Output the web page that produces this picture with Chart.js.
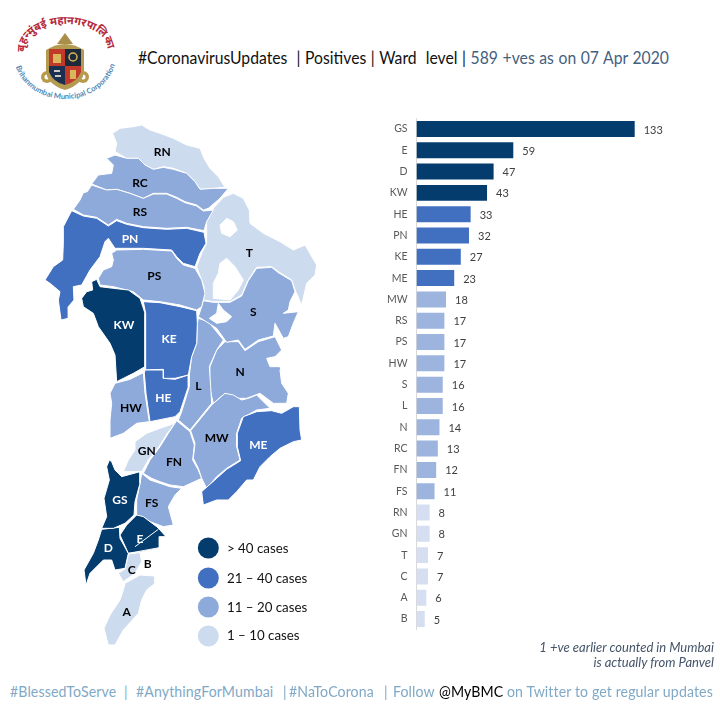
<!DOCTYPE html>
<html><head><meta charset="utf-8">
<script src="https://cdn.jsdelivr.net/npm/chart.js@4/dist/chart.umd.js"></script>
<style>
html,body{margin:0;padding:0;background:#fff;width:720px;height:720px;overflow:hidden;font-family:Lato,"Open Sans",sans-serif}
canvas,svg,.t{position:absolute}
.t{white-space:pre}
#title{left:138px;top:47px;font-size:17px;line-height:22px;color:#111;word-spacing:.6px;transform:scaleX(.925);transform-origin:0 50%}
#title .s{color:#44607f}
#note1,#note2{right:6px;font-size:13px;font-style:italic;color:#44546a;line-height:15px}
#note1{top:640px}#note2{top:655px}
.f{top:682px;font-size:14.6px;line-height:20px;color:#7fa9c6;letter-spacing:.1px;transform:scaleX(.97);transform-origin:0 50%}
.leg{left:227px;font-size:13.3px;line-height:18px;color:#111}
</style></head><body>
<svg width="110" height="100" style="left:10px;top:12px" viewBox="10 12 110 100">
<defs>
<path id="redArc" d="M25 50 A41 25 0 0 1 107 48"/>
<path id="blueArc" d="M14 56 A51 44 0 0 0 116 54"/>
</defs>
<text font-family="'Noto Sans','DejaVu Sans',serif" font-size="11" font-weight="700" fill="#b5283a"><textPath href="#redArc" startOffset="50%" text-anchor="middle">बृहन्मुंबई महानगरपालिका</textPath></text>
<text font-family="Lato" font-size="7.6" font-weight="700" fill="#4f88b8"><textPath href="#blueArc" startOffset="50%" text-anchor="middle">Brihanmumbai Municipal Corporation</textPath></text>
<circle cx="47" cy="77" r="6" fill="#b89a4a"/><circle cx="83" cy="77" r="6" fill="#b89a4a"/>
<circle cx="47" cy="77" r="2.5" fill="#fff"/><circle cx="83" cy="77" r="2.5" fill="#fff"/>
<path d="M57 44 L65 33 L73 44Z" fill="#a98f4a"/>
<path d="M46 50 Q65 38 84 50 L84 70 Q84 84 65 90 Q46 84 46 70Z" fill="#b59a52"/>
<rect x="49" y="49" width="16" height="17" fill="#c0392b"/><rect x="65" y="49" width="16" height="17" fill="#1d2a3a"/>
<path d="M49 66 H65 V85 Q53 82 49 72Z" fill="#1b3050"/><path d="M65 66 H81 V72 Q77 82 65 85Z" fill="#c0392b"/>
<rect x="53" y="54" width="8" height="9" fill="#d9b65a"/><circle cx="73" cy="57" r="4" fill="none" stroke="#d9b65a" stroke-width="1.5"/>
<rect x="70" y="70" width="6" height="9" fill="#d9b65a"/><rect x="54" y="70" width="6" height="2" fill="#c9c9c9"/><rect x="55" y="75" width="6" height="2" fill="#c9c9c9"/>
</svg>
<div class="t" id="title">#CoronavirusUpdates  | Positives | Ward  level | <span class="s">589 +ves as on 07 Apr 2020</span></div>
<canvas id="map" width="330" height="560" style="left:0;top:110px"></canvas>
<canvas id="bars" width="340" height="542" style="left:380px;top:103px"></canvas>
<div class="t leg" style="top:539px">&gt; 40 cases</div>
<div class="t leg" style="top:569px">21 – 40 cases</div>
<div class="t leg" style="top:598px">11 – 20 cases</div>
<div class="t leg" style="top:626px">1 – 10 cases</div>
<div class="t" id="note1">1 +ve earlier counted in Mumbai</div>
<div class="t" id="note2">is actually from Panvel</div>
<div class="t f" style="left:10px">#BlessedToServe</div>
<div class="t f" style="left:124px">|</div>
<div class="t f" style="left:136px">#AnythingForMumbai</div>
<div class="t f" style="left:283px">|</div>
<div class="t f" style="left:289px">#NaToCorona</div>
<div class="t f" style="left:384px">|</div>
<div class="t f" style="left:393px">Follow</div>
<div class="t f" style="left:439px;color:#000">@MyBMC</div>
<div class="t f" style="left:507px">on Twitter to get regular updates</div>
<script>
const wards=['GS','E','D','KW','HE','PN','KE','ME','MW','RS','PS','HW','S','L','N','RC','FN','FS','RN','GN','T','C','A','B'];
const cases=[133,59,47,43,33,32,27,23,18,17,17,17,16,16,14,13,12,11,8,8,7,7,6,5];
const barTier=['#043c6e','#4270c0','#9db4de','#d5dff1'];
const mapTier=['#043c6e','#4270c0','#8eaadb','#cddbee'];
const tierOf=v=>v>40?0:v>20?1:v>10?2:3;

// Ward outlines in map units
const RN=[338,70,360,55,400,50,425,45,450,60,480,70,520,85,560,105,600,115,612,145,630,175,655,200,675,232,640,235,600,238,585,215,560,190,520,175,490,170,460,178,435,165,415,145,380,145,345,125,350,100];
const RC=[320,145,345,135,380,145,415,145,435,165,460,178,490,172,520,178,560,190,585,215,600,238,640,235,685,235,660,265,625,295,610,300,590,285,555,275,530,262,500,250,460,250,430,265,390,250,350,238,320,240,275,222,295,195,335,190,340,165];
const RS=[275,225,320,240,350,238,390,250,430,265,460,252,500,252,530,265,555,278,590,288,610,303,640,300,620,335,612,362,560,352,500,355,430,350,380,340,350,328,325,345,290,322,250,315,220,298,240,270,250,248,262,245];
const PN=[215,302,250,318,290,325,325,348,350,332,380,343,430,353,500,358,560,355,612,367,618,400,600,430,585,470,550,460,530,440,515,420,430,415,345,415,335,400,325,385,315,395,300,440,270,480,245,525,220,530,222,570,205,590,205,625,183,630,175,570,180,545,150,520,135,510,160,470,188,450,190,400,190,350];
const PS=[335,430,350,420,430,418,515,423,530,445,550,465,585,475,605,510,615,550,605,590,590,600,540,585,480,575,430,570,400,545,340,530,300,525,295,505,310,480,335,470,340,450];
const KW=[275,515,290,508,300,530,340,535,385,540,420,565,435,610,435,700,435,770,400,790,350,815,345,735,330,700,295,650,280,610,250,590,245,565,260,545,278,540];
const KE=[430,575,480,578,540,590,590,602,592,640,590,700,575,740,565,795,525,805,490,805,490,778,437,780,437,700,437,610];
const T=[620,335,640,295,670,262,700,250,730,265,748,300,750,340,790,370,840,395,880,420,915,405,950,465,945,495,920,520,905,585,885,540,875,510,835,485,815,470,770,472,745,510,725,555,690,575,640,575,610,570,612,530,590,470,605,430,620,400];
const S=[610,572,640,577,690,577,725,558,745,512,770,475,815,472,835,488,875,512,885,545,870,575,865,600,850,610,895,605,880,640,865,680,850,685,825,640,820,678,775,690,735,718,715,690,680,697,650,655,595,620,605,590];
const L=[595,625,625,635,670,690,650,720,628,770,632,830,635,880,570,960,535,930,545,905,568,830,568,795,575,740,590,700,592,640];
const N=[675,695,715,695,735,722,775,695,825,680,845,720,825,740,800,745,810,770,840,770,850,810,840,780,845,820,865,850,860,880,820,880,780,850,740,865,715,865,675,850,640,880,628,830,630,770,650,720];
const HW=[430,788,435,850,448,935,410,940,370,970,330,985,330,930,335,880,330,850,345,820,390,808];
const HE=[435,780,490,780,490,805,525,808,565,795,565,830,540,905,525,920,450,935,438,850,433,790];
const MW=[675,850,700,855,725,870,745,865,770,855,810,895,770,900,725,925,710,970,710,1010,720,1050,680,1075,650,1100,620,1135,605,1105,595,1075,580,1045,585,1000,572,962,635,885];
const ME=[730,920,770,905,815,902,845,910,880,890,898,890,900,960,905,990,880,995,840,1015,810,1040,780,1070,760,1110,740,1110,710,1145,685,1170,650,1170,610,1185,605,1145,650,1105,680,1078,722,1052,712,1010,712,970];
const FN=[530,932,570,965,583,1005,578,1050,595,1080,605,1105,550,1130,510,1125,480,1115,455,1105,430,1090,450,1050,480,1010,505,970];
const GN=[525,940,502,970,477,1010,445,1050,425,1085,370,1085,385,1050,405,1020,405,995,440,970,480,955];
const GS=[328,1050,335,1055,345,1080,365,1100,420,1085,420,1120,405,1175,402,1215,375,1240,340,1255,305,1255,320,1220,312,1165,328,1110,320,1070];
const FS=[425,1090,450,1110,480,1120,510,1130,545,1135,525,1155,505,1190,520,1245,490,1250,450,1235,408,1215,410,1170,420,1120];
const E=[410,1215,430,1220,470,1250,480,1260,498,1280,478,1280,478,1315,425,1325,385,1330,360,1275,380,1245];
const D=[305,1258,358,1252,360,1285,385,1330,375,1375,345,1380,335,1350,310,1350,270,1390,258,1425,252,1380,280,1330,295,1290];
const C=[385,1332,420,1328,425,1355,405,1390,370,1415,355,1390,375,1377];
const A=[375,1420,420,1395,465,1398,465,1420,440,1440,425,1470,415,1510,370,1560,345,1605,325,1605,312,1555,330,1515,360,1470,370,1440];
const outlines={GS,E,D,KW,HE,PN,KE,ME,MW,RS,PS,HW,S,L,N,RC,FN,FS,RN,GN,T,C,A};

// Water inside the wards
const lakes=[
 [660,345,680,325,700,335,712,360,690,380,665,370],
 [660,460,680,445,705,470,730,510,715,540,690,570,640,565,640,520,655,490],
 [628,625,650,610,655,580,670,600,695,620,680,635,650,640]];
const eInnerA=[385,1330,478,1313];
const eInnerB=[405,1310,475,1258];

const labelX=[487,420,420,390,463,748,760,372,507,720,595,393,490,650,775,440,522,360,455,420,325,395,443,380];
const labelY=[125,218,305,387,497,428,605,645,687,785,827,893,865,983,1005,1022,1055,1170,1180,1287,1313,1380,1362,1505];
const labelText=['RN','RC','RS','PN','PS','T','S','KW','KE','N','L','HW','HE','MW','ME','GN','FN','GS','FS','E','D','C','B','A'];

const legendX=[625,625,625,625];
const legendY=[1314,1404,1491,1578];

const pts=f=>{const a=[];for(let i=0;i<f.length;i+=2)a.push({x:f[i],y:f[i+1]});return a};
const closed=f=>{const a=pts(f);a.push(a[0]);return a};
const base={showLine:true,tension:0,pointRadius:0,pointHoverRadius:0};
const ds=[];
legendX.forEach((x,i)=>ds.push({data:[{x,y:legendY[i]}],showLine:false,pointRadius:10.5,pointBorderWidth:0,pointBackgroundColor:mapTier[i],pointBorderColor:mapTier[i]}));
[eInnerA,eInnerB].forEach(f=>ds.push({...base,data:pts(f),borderColor:'#fff',borderWidth:1,fill:false}));
lakes.forEach(f=>ds.push({...base,data:closed(f),borderColor:'#fff',backgroundColor:'#fff',borderWidth:1,fill:'shape'}));
Object.keys(outlines).forEach(w=>{
  const c=mapTier[tierOf(cases[wards.indexOf(w)])];
  ds.push({...base,data:closed(outlines[w]),backgroundColor:c,borderColor:'#fff',borderWidth:1,fill:'shape'});
});

const mapLabels={id:'mapLabels',afterDatasetsDraw(ch){
  const c=ch.ctx,x=ch.scales.x,y=ch.scales.y;
  c.save();c.textAlign='center';c.textBaseline='middle';c.font='700 12px Lato';
  labelText.forEach((t,i)=>{
    const v=cases[wards.indexOf(t)];
    c.fillStyle=tierOf(v)<2?'#fff':'#000';
    c.fillText(t,x.getPixelForValue(labelX[i]),y.getPixelForValue(labelY[i]));
  });
  c.restore();
}};
new Chart(document.getElementById('map'),{type:'scatter',data:{datasets:ds},plugins:[mapLabels],options:{
  responsive:false,animation:false,devicePixelRatio:1,
  layout:{padding:0,autoPadding:false},
  plugins:{legend:{display:false},tooltip:{enabled:false}},
  scales:{x:{type:'linear',min:0,max:990,display:false},y:{type:'linear',min:0,max:1680,reverse:true,display:false}}
}});

const barLabels={id:'barLabels',afterDatasetsDraw(ch){
  const c=ch.ctx,m=ch.getDatasetMeta(0);
  c.save();c.fillStyle='#404040';c.font='11px Lato';c.textBaseline='middle';c.textAlign='left';
  m.data.forEach((b,i)=>c.fillText(String(cases[i]),b.x+9,b.y+1));
  c.restore();
}};
new Chart(document.getElementById('bars'),{type:'bar',
  data:{labels:wards,datasets:[{data:cases,backgroundColor:cases.map(v=>barTier[tierOf(v)]),barPercentage:.75,categoryPercentage:1}]},
  plugins:[barLabels],
  options:{indexAxis:'y',responsive:false,animation:false,devicePixelRatio:1,
    layout:{padding:0,autoPadding:false},
    plugins:{legend:{display:false},tooltip:{enabled:false}},
    scales:{
      x:{min:0,max:185,display:false},
      y:{afterFit(s){s.width=36.5},grid:{display:false,drawTicks:false},border:{display:true,color:'#d9d9d9',width:1},
         ticks:{color:'#595959',font:{family:'Lato',size:10.5},padding:9,autoSkip:false}}
    }}});
</script>
</body></html>
